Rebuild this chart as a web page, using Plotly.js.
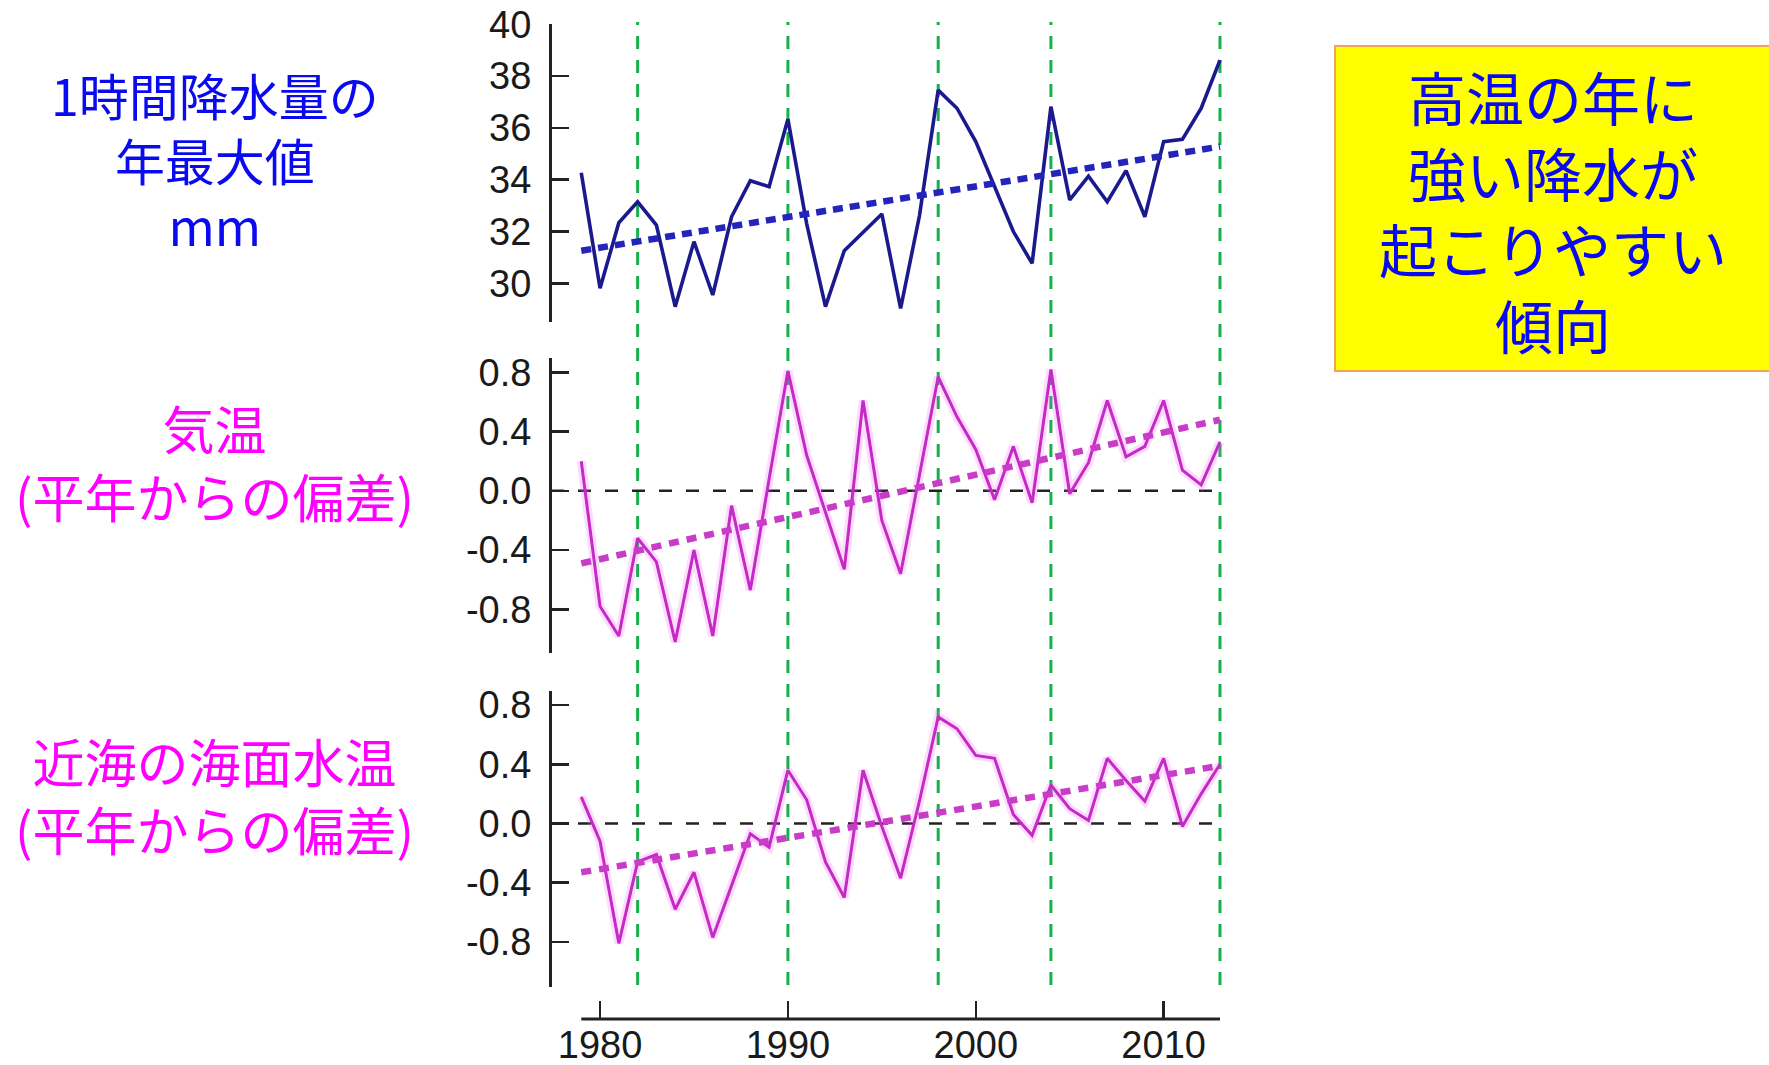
<!DOCTYPE html>
<html>
<head>
<meta charset="utf-8">
<script src="https://cdn.plot.ly/plotly-3.0.1.min.js"></script>
<style>
  html, body { margin: 0; padding: 0; background: #ffffff; }
  #chart { width: 1769px; height: 1065px; }
</style>
</head>
<body>
<div id="chart"></div>
<script>
// Years 1979-2013
const years = [1979, 1980, 1981, 1982, 1983, 1984, 1985, 1986, 1987, 1988,
               1989, 1990, 1991, 1992, 1993, 1994, 1995, 1996, 1997, 1998,
               1999, 2000, 2001, 2002, 2003, 2004, 2005, 2006, 2007, 2008,
               2009, 2010, 2011, 2012, 2013];

// Annual maximum 1-hour precipitation (mm)
const rainMax = [34.27, 29.81, 32.34, 33.15, 32.25, 29.10, 31.61, 29.55, 32.57, 33.96,
                 33.73, 36.34, 32.30, 29.10, 31.26, 31.99, 32.68, 29.03, 32.60, 37.46,
                 36.76, 35.47, 33.73, 32.00, 30.77, 36.82, 33.22, 34.14, 33.15, 34.35,
                 32.57, 35.47, 35.56, 36.76, 38.62];

// Air temperature anomaly (deg C from normal)
const airTemp = [0.20, -0.78, -0.98, -0.32, -0.48, -1.02, -0.40, -0.98, -0.10, -0.67,
                 0.08, 0.81, 0.24, -0.14, -0.53, 0.61, -0.20, -0.56, 0.10, 0.77,
                 0.50, 0.28, -0.06, 0.30, -0.08, 0.82, -0.02, 0.19, 0.61, 0.23,
                 0.30, 0.61, 0.14, 0.04, 0.33];

// Coastal sea surface temperature anomaly (deg C from normal)
const seaTemp = [0.18, -0.12, -0.81, -0.26, -0.21, -0.58, -0.33, -0.77, -0.42, -0.07,
                 -0.16, 0.36, 0.16, -0.26, -0.50, 0.36, -0.02, -0.37, 0.15, 0.72,
                 0.64, 0.46, 0.44, 0.06, -0.08, 0.26, 0.10, 0.02, 0.44, 0.29,
                 0.15, 0.44, -0.02, 0.20, 0.40];

// Linear trends (start 1979, end 2013)
const trendYears = [1979, 2013];
const trendRain = [31.26, 35.28];
const trendAir = [-0.49, 0.48];
const trendSea = [-0.33, 0.39];

// Years marked with vertical guides
const markedYears = [1982, 1990, 1998, 2004, 2013];

// Tick labels
const xTickVals = [1980, 1990, 2000, 2010];
const xTickText = ['1980', '1990', '2000', '2010'];
const rainTickVals = [30, 32, 34, 36, 38, 40];
const rainTickText = ['30', '32', '34', '36', '38', '40'];
const anomTickVals = [-0.8, -0.4, 0.0, 0.4, 0.8];
const anomTickText = ['-0.8', '-0.4', '0.0', '0.4', '0.8'];

// Side texts
const rainLabel = ['1時間降水量の', '年最大値', 'mm'];
const airLabel = ['気温', '(平年からの偏差)'];
const seaLabel = ['近海の海面水温', '(平年からの偏差)'];
const noteLines = ['高温の年に', '強い降水が', '起こりやすい', '傾向'];

// ---- geometry helpers (pixel -> paper) ----
const W = 1769, H = 1065;
const M = { l: 550, r: 543, t: 20, b: 46 };
const PW = W - M.l - M.r, PH = H - M.t - M.b;
const px2x = px => (px - M.l) / PW;
const px2y = py => (H - M.b - py) / PH;

const NAVY = '#1a1a8e';
const TREND_BLUE = '#2424bc';
const MAGENTA = '#c42ac4';
const TREND_MAG = '#c83cc8';
const AXIS = '#222222';
const TICK_FONT = { family: 'Liberation Sans, Arial, Helvetica, sans-serif', size: 38, color: '#1a1a1a' };
const CJK = 'Noto Sans CJK JP, sans-serif';

const halo = (y, axis) => ({
  x: years, y: y, yaxis: axis, type: 'scatter', mode: 'lines',
  line: { color: 'rgba(255,90,255,0.22)', width: 9 }, hoverinfo: 'skip', showlegend: false
});

const traces = [
  { x: years, y: rainMax, yaxis: 'y', type: 'scatter', mode: 'lines',
    line: { color: NAVY, width: 3.6 }, showlegend: false },
  { x: trendYears, y: trendRain, yaxis: 'y', type: 'scatter', mode: 'lines',
    line: { color: TREND_BLUE, width: 6.5, dash: '10px,7px' }, showlegend: false },

  halo(airTemp, 'y2'),
  { x: years, y: airTemp, yaxis: 'y2', type: 'scatter', mode: 'lines',
    line: { color: MAGENTA, width: 3 }, showlegend: false },
  { x: trendYears, y: trendAir, yaxis: 'y2', type: 'scatter', mode: 'lines',
    line: { color: TREND_MAG, width: 6.5, dash: '10px,8px' }, showlegend: false },

  halo(seaTemp, 'y3'),
  { x: years, y: seaTemp, yaxis: 'y3', type: 'scatter', mode: 'lines',
    line: { color: MAGENTA, width: 3 }, showlegend: false },
  { x: trendYears, y: trendSea, yaxis: 'y3', type: 'scatter', mode: 'lines',
    line: { color: TREND_MAG, width: 6.5, dash: '10px,8px' }, showlegend: false }
];

const yCommon = {
  anchor: 'free', position: 0, showgrid: false, zeroline: false,
  showline: true, linecolor: AXIS, linewidth: 2.5,
  ticks: 'inside', ticklen: 17, tickwidth: 2.5, tickcolor: AXIS,
  tickfont: TICK_FONT, ticklabelstandoff: 10, fixedrange: true
};

const shapes = [];
// vertical guides through all three panels
markedYears.forEach(yr => shapes.push({
  type: 'line', xref: 'x', yref: 'paper', x0: yr, x1: yr,
  y0: px2y(985), y1: px2y(22), layer: 'below',
  line: { color: '#17b04c', width: 3, dash: '13px,11px' }
}));
// zero reference lines
['y2', 'y3'].forEach(ax => shapes.push({
  type: 'line', xref: 'paper', yref: ax, x0: px2x(551), x1: px2x(1222), y0: 0, y1: 0,
  layer: 'below', line: { color: AXIS, width: 2.5, dash: '13px,14px' }
}));
// bottom axis line
shapes.push({
  type: 'line', xref: 'x', yref: 'paper', x0: 1979, x1: 2013, y0: 0, y1: 0,
  line: { color: AXIS, width: 3 }
});
// note box
shapes.push({
  type: 'rect', xref: 'paper', yref: 'paper',
  x0: px2x(1335), x1: px2x(1780), y0: px2y(371), y1: px2y(46),
  fillcolor: '#ffff00', line: { color: '#f5a05a', width: 2 }, layer: 'below'
});

// multi-line text block centred at (cx, cy) in pixels
const block = (lines, cx, cy, color, size) => ({
  text: lines.join('<br>'), xref: 'paper', yref: 'paper', x: px2x(cx), y: px2y(cy),
  xanchor: 'center', yanchor: 'middle', align: 'center', showarrow: false,
  font: { family: CJK, size: size, color: color }
});

const annotations = [
  block(rainLabel, 215, 159, '#0a0af0', 50),
  block(airLabel, 214, 461, '#ff00ff', 52),
  block(seaLabel, 214, 794, '#ff00ff', 52)
];
// note lines, one per row
const noteRows = [96, 172, 248, 324];
noteLines.forEach((t, i) => annotations.push(block([t], 1553, noteRows[i], '#0a0af0', 58)));

const layout = {
  width: W, height: H, margin: M,
  paper_bgcolor: '#ffffff', plot_bgcolor: 'rgba(0,0,0,0)',
  showlegend: false,
  xaxis: {
    range: [1977.336, 1977.336 + PW / 18.786], anchor: 'free', position: 0,
    showgrid: false, zeroline: false, showline: false,
    tickmode: 'array', tickvals: xTickVals, ticktext: xTickText,
    ticks: 'inside', ticklen: 18, tickwidth: 2.5, tickcolor: AXIS,
    tickfont: TICK_FONT, ticklabelstandoff: 0, fixedrange: true
  },
  yaxis: Object.assign({}, yCommon, {
    domain: [px2y(321.7), px2y(24.3)], range: [28.52, 40],
    tickmode: 'array', tickvals: rainTickVals, ticktext: rainTickText
  }),
  yaxis2: Object.assign({}, yCommon, {
    domain: [px2y(653.3), px2y(358.3)], range: [-1.097, 0.895],
    tickmode: 'array', tickvals: anomTickVals, ticktext: anomTickText
  }),
  yaxis3: Object.assign({}, yCommon, {
    domain: [px2y(986.7), px2y(690.7)], range: [-1.103, 0.897],
    tickmode: 'array', tickvals: anomTickVals, ticktext: anomTickText
  }),
  shapes: shapes,
  annotations: annotations
};

Plotly.newPlot('chart', traces, layout, { staticPlot: true, displayModeBar: false });
</script>
</body>
</html>
